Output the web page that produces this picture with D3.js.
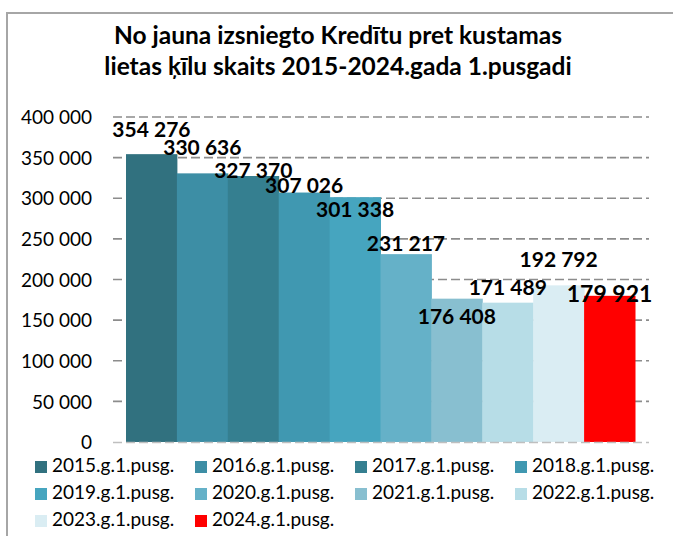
<!DOCTYPE html>
<html>
<head>
<meta charset="utf-8">
<script src="https://cdn.jsdelivr.net/npm/d3@7"></script>
<style>
  body { margin: 0; background: #fff; }
  svg { display: block; font-family: Lato, "Noto Sans", sans-serif; }
</style>
</head>
<body>
<script>
var WIDTH = 673, HEIGHT = 536

// chart data
var categories = ["2015.g.1.pusg.", "2016.g.1.pusg.", "2017.g.1.pusg.", "2018.g.1.pusg.", "2019.g.1.pusg.",
                  "2020.g.1.pusg.", "2021.g.1.pusg.", "2022.g.1.pusg.", "2023.g.1.pusg.", "2024.g.1.pusg."]
var values = [354276, 330636, 327370, 307026, 301338, 231217, 176408, 171489, 192792, 179921]
var colors = ["#31717f", "#3d8ea5", "#357f90", "#4098b1", "#46a5bf",
              "#65b1c8", "#88bfd0", "#b7dde7", "#daedf3", "#ff0000"]
var yTicks = [0, 50000, 100000, 150000, 200000, 250000, 300000, 350000, 400000]
var titleLines = ["No jauna izsniegto Kredītu pret kustamas", "lietas ķīlu skaits 2015-2024.gada 1.pusgadi"]
// the labels were moved by hand in the original, vertical nudge from the bar top
var labelNudge = [-17, -18, 2, 0, 20, -3, 25, -8, -18, 6]

var fmt = d3.formatLocale({decimal: ",", thousands: " ", grouping: [3], currency: ["", ""]}).format(",d")

var svg = d3.select('body').append('svg')
  .attr('width', WIDTH)
  .attr('height', HEIGHT)

// frame of the chart object
svg.append('path')
  .attr('d', 'M7,540 V13 H680')
  .attr('fill', 'none')
  .attr('stroke', '#a6a6a6')
  .attr('stroke-width', 2)

svg.append('g').selectAll('text').data(titleLines)
  .enter().append('text')
    .attr('x', 338)
    .attr('y', function(d, i){ return 44 + i * 31 })
    .attr('text-anchor', 'middle')
    .style('font-weight', 'bold')
    .style('font-size', '24.5px')
    .text(function(d){ return d })

var x = d3.scaleBand().domain(categories).range([126, 635]).padding(0)
var y = d3.scaleLinear().domain([0, 400000]).range([442, 117])

// gridlines
svg.append('g').selectAll('line').data(yTicks.filter(function(d){ return d > 0 }))
  .enter().append('line')
    .attr('x1', 113).attr('x2', 649)
    .attr('y1', function(d){ return y(d) }).attr('y2', function(d){ return y(d) })
    .attr('stroke', '#8c8c8c')
    .attr('stroke-width', 1.6)
    .attr('stroke-dasharray', '9,4')

var yAxis = d3.axisLeft(y).tickValues(yTicks).tickFormat(fmt).tickSize(0).tickPadding(0)
var ax = svg.append('g').attr('transform', 'translate(92,0)').call(yAxis)
ax.select('.domain').remove()
ax.selectAll('text')
  .attr('dy', '0.35em')
  .style('font-family', 'Lato, sans-serif')
  .style('font-size', '19px')
  .attr('fill', '#000')

svg.append('g').selectAll('rect').data(values)
  .enter().append('rect')
    .attr('x', function(d, i){ return x(categories[i]) })
    .attr('width', x.bandwidth() + 0.5)
    .attr('y', function(d){ return y(d) })
    .attr('height', function(d){ return y(0) - y(d) })
    .attr('fill', function(d, i){ return colors[i] })

// baseline
svg.append('line')
  .attr('x1', 113).attr('x2', 649)
  .attr('y1', y(0) + 0.5).attr('y2', y(0) + 0.5)
  .attr('stroke', '#bfbfbf')
  .attr('stroke-width', 1.5)
  .attr('stroke-dasharray', '9,4')

svg.append('g').selectAll('text').data(values)
  .enter().append('text')
    .attr('x', function(d, i){ return x(categories[i]) + x.bandwidth() / 2 })
    .attr('y', function(d, i){ return y(d) + labelNudge[i] })
    .attr('text-anchor', 'middle')
    .style('font-weight', 'bold')
    .style('font-size', function(d, i){ return i === 9 ? '23px' : '21px' })
    .text(function(d){ return fmt(d) })

// legend, 4 per row
var legend = svg.append('g').selectAll('g').data(categories)
  .enter().append('g')
    .attr('transform', function(d, i){ return 'translate(' + (35 + (i % 4) * 160) + ',' + (461 + Math.floor(i / 4) * 27) + ')' })
legend.append('rect')
  .attr('width', 12).attr('height', 12)
  .attr('fill', function(d, i){ return colors[i] })
legend.append('text')
  .attr('x', 17).attr('y', 11)
  .style('font-size', '19px')
  .text(function(d){ return d })
</script>
</body>
</html>
